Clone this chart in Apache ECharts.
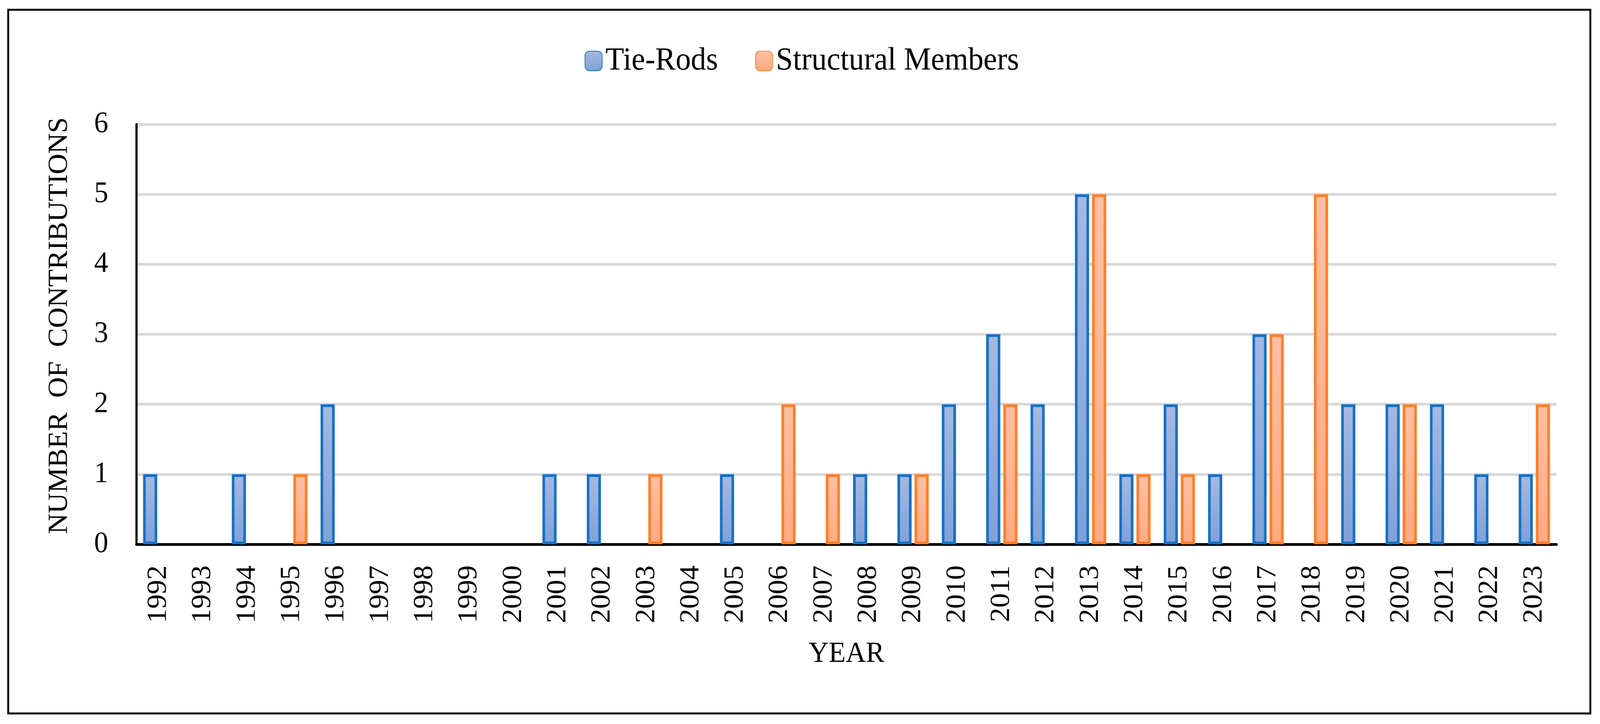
<!DOCTYPE html>
<html>
<head>
<meta charset="utf-8">
<script src="https://cdn.jsdelivr.net/npm/echarts@6/dist/echarts.min.js"></script>
<style>
html,body{margin:0;padding:0;background:#fff;overflow:hidden;}
#chart{width:4302px;height:1853px;transform-origin:0 0;}
</style>
</head>
<body>
<div id="chart"></div>
<script>
var years = ['1992','1993','1994','1995','1996','1997','1998','1999','2000','2001','2002','2003','2004','2005','2006','2007','2008','2009','2010','2011','2012','2013','2014','2015','2016','2017','2018','2019','2020','2021','2022','2023'];
var tieRods = [1,0,1,0,2,0,0,0,0,1,1,0,0,1,0,0,1,1,2,3,2,5,1,2,1,3,0,2,2,2,1,1];
var structuralMembers = [0,0,0,1,0,0,0,0,0,0,0,1,0,0,2,1,0,1,0,2,0,5,1,1,0,3,5,0,2,0,0,2];
var yTicks = [0,1,2,3,4,5,6];

var FONT = '"Palatino Linotype","Book Antiqua",Palatino,"Liberation Serif",serif';

// the window may be narrower than the 4302px design: fit it
var el = document.getElementById('chart');
var sx = Math.min(1, window.innerWidth / 4302);
var sy = Math.min(1, window.innerHeight / 1853);
el.style.transform = 'scale(' + sx + ',' + sy + ')';

function hideZero(arr){ return arr.map(function(v){ return v === 0 ? '-' : v; }); }

var chart = echarts.init(el, null, {renderer:'canvas', width:4302, height:1853});
var option = {
  backgroundColor:'#ffffff',
  animation:false,
  textStyle:{fontFamily:FONT,color:'#000'},
  graphic:[{
    type:'rect',
    shape:{x:22,y:25,width:4254,height:1801},
    style:{fill:'none',stroke:'#000',lineWidth:5},
    silent:true
  }],
  legend:{
    left:1567, top:110,
    itemWidth:46, itemHeight:50,
    itemGap:100,
    textStyle:{fontFamily:FONT,fontSize:82,color:'#000',padding:[0,0,0,4]},
    data:['Tie-Rods','Structural Members']
  },
  grid:{left:367,right:117,top:318,bottom:460,containLabel:false},
  xAxis:{
    type:'category',
    data:years,
    name:'YEAR',
    nameLocation:'middle',
    nameGap:244,
    nameTextStyle:{fontFamily:FONT,fontSize:75,color:'#000'},
    axisLine:{show:true,lineStyle:{color:'#000',width:7}},
    axisTick:{show:false},
    axisLabel:{rotate:90,margin:54,fontFamily:FONT,fontSize:74,color:'#000',interval:0}
  },
  yAxis:{
    type:'value',
    min:yTicks[0], max:yTicks[yTicks.length-1], interval:1,
    name:'NUMBER  OF  CONTRIBUTIONS',
    nameLocation:'middle',
    nameGap:170,
    nameTextStyle:{fontFamily:FONT,fontSize:73,color:'#000',padding:[0,0,0,44]},
    axisLine:{show:true,lineStyle:{color:'#000',width:6}},
    axisTick:{show:false},
    axisLabel:{margin:76,fontFamily:FONT,fontSize:76,color:'#000'},
    splitLine:{show:true,lineStyle:{color:'#d9d9d9',width:7}}
  },
  series:[{
    name:'Tie-Rods',
    type:'bar',
    data:hideZero(tieRods),
    barWidth:38,
    barGap:'21%',
    itemStyle:{
      color:new echarts.graphic.LinearGradient(0,0,0,1,[{offset:0,color:'#a6b9e1'},{offset:1,color:'#7fa1d9'}]),
      borderColor:'#1570c4',
      borderWidth:7
    }
  },{
    name:'Structural Members',
    type:'bar',
    data:hideZero(structuralMembers),
    barWidth:38,
    barGap:'21%',
    itemStyle:{
      color:new echarts.graphic.LinearGradient(0,0,0,1,[{offset:0,color:'#ffc0a4'},{offset:1,color:'#ffaa82'}]),
      borderColor:'#ff7e27',
      borderWidth:7
    }
  }]
};
chart.setOption(option);
</script>
</body>
</html>
